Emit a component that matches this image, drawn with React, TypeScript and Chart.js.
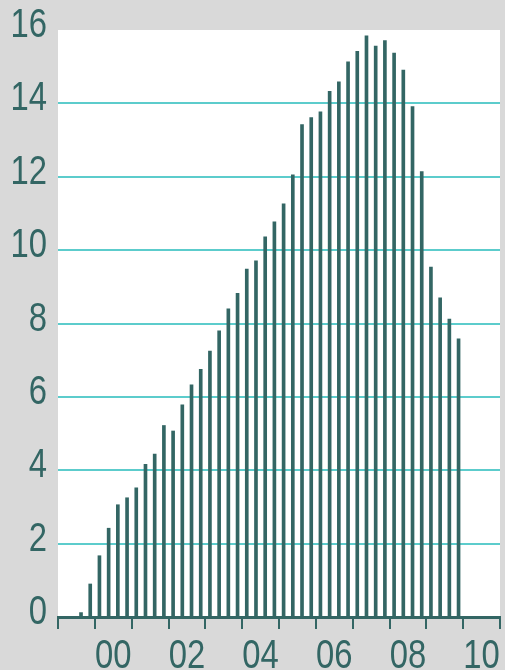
import React, { useEffect, useRef } from "react";
import { Chart, registerables } from "chart.js";

Chart.register(...registerables);

// Quarterly periods (year, quarter)
const periods: string[] = [
  "1999Q3", "1999Q4",
  "2000Q1", "2000Q2", "2000Q3", "2000Q4",
  "2001Q1", "2001Q2", "2001Q3", "2001Q4",
  "2002Q1", "2002Q2", "2002Q3", "2002Q4",
  "2003Q1", "2003Q2", "2003Q3", "2003Q4",
  "2004Q1", "2004Q2", "2004Q3", "2004Q4",
  "2005Q1", "2005Q2", "2005Q3", "2005Q4",
  "2006Q1", "2006Q2", "2006Q3", "2006Q4",
  "2007Q1", "2007Q2", "2007Q3", "2007Q4",
  "2008Q1", "2008Q2", "2008Q3", "2008Q4",
  "2009Q1", "2009Q2", "2009Q3", "2009Q4",
];

const values: number[] = [
  0.12, 0.9,
  1.67, 2.42, 3.06, 3.25,
  3.52, 4.16, 4.44, 5.22,
  5.07, 5.78, 6.33, 6.75,
  7.25, 7.8, 8.4, 8.82,
  9.48, 9.71, 10.36, 10.77,
  11.26, 12.05, 13.42, 13.61,
  13.77, 14.33, 14.59, 15.13,
  15.42, 15.84, 15.56, 15.71,
  15.37, 14.91, 13.91, 12.14,
  9.54, 8.7, 8.12, 7.58,
];

const xTickYears: number[] = [2000, 2002, 2004, 2006, 2008, 2010];
const xTickLabels: string[] = ["00", "02", "04", "06", "08", "10"];
const yTicks: number[] = [0, 2, 4, 6, 8, 10, 12, 14, 16];

const X_MIN = 1999;
const X_MAX = 2011;

const TEXT = "#336664";
const BAR = "#336664";
const GRID = "#5ccccc";
const BG = "#d9d9d9";
const FONT = "'Liberation Sans', Arial, sans-serif";
const NARROW = 0.82;

function periodToX(p: string): number {
  const y = parseInt(p.slice(0, 4), 10);
  const q = parseInt(p.slice(5), 10);
  return y + (q - 0.5) / 4;
}

// draw tick labels horizontally condensed (narrow typeface look)
function condenseLabels(scale: any) {
  if (scale.__condensed) return;
  scale.__condensed = true;
  const proto = Object.getPrototypeOf(scale);
  scale.drawLabels = function (area: any) {
    const ctx = this.ctx;
    const orig = ctx.fillText;
    ctx.fillText = function (t: string, x: number, y: number, mw?: number) {
      this.save();
      this.translate(x, y);
      this.scale(NARROW, 1);
      if (mw === undefined) orig.call(this, t, 0, 0);
      else orig.call(this, t, 0, 0, mw / NARROW);
      this.restore();
    };
    try {
      proto.drawLabels.call(this, area);
    } finally {
      delete ctx.fillText;
    }
  };
}

const bgPlugin = {
  id: "bgPlugin",
  beforeDraw(chart: any) {
    const { ctx, chartArea } = chart;
    ctx.save();
    ctx.fillStyle = BG;
    ctx.fillRect(0, 0, chart.width, chart.height);
    ctx.fillStyle = "#ffffff";
    ctx.fillRect(chartArea.left, chartArea.top, chartArea.right - chartArea.left, chartArea.bottom - chartArea.top);
    ctx.restore();
  },
};

export default function App() {
  const ref = useRef<HTMLCanvasElement | null>(null);

  useEffect(() => {
    if (!ref.current) return;
    const data = periods.map((p, i) => ({ x: periodToX(p), y: values[i] }));
    const chart = new Chart(ref.current, {
      type: "bar",
      data: {
        datasets: [
          {
            data,
            backgroundColor: BAR,
            borderWidth: 0,
            barThickness: 3,
          },
        ],
      },
      plugins: [bgPlugin],
      options: {
        animation: false,
        responsive: false,
        maintainAspectRatio: false,
        layout: { padding: { left: 13, right: 5, top: 30, bottom: 0 } },
        plugins: {
          legend: { display: false },
          tooltip: { enabled: false },
        },
        scales: {
          x: {
            type: "linear",
            min: X_MIN,
            max: X_MAX,
            offset: false,
            afterBuildTicks(scale: any) {
              const t = [];
              for (let v = X_MIN; v <= X_MAX; v++) t.push({ value: v });
              scale.ticks = t;
            },
            afterFit(scale: any) {
              scale.height = 53;
              scale.paddingLeft = 0;
              scale.paddingRight = 0;
              condenseLabels(scale);
            },
            ticks: {
              autoSkip: false,
              maxRotation: 0,
              minRotation: 0,
              padding: 4,
              labelOffset: 18.4,
              color: TEXT,
              font: { family: FONT, size: 40 },
              callback(v: any) {
                const i = xTickYears.indexOf(Number(v));
                return i >= 0 ? xTickLabels[i] : "";
              },
            },
            grid: {
              offset: false,
              drawOnChartArea: false,
              drawTicks: true,
              tickLength: 12,
              color: BAR,
              tickColor: BAR,
              tickWidth: 2,
              lineWidth: 2,
            },
            border: { display: true, color: BAR, width: 3 },
          },
          y: {
            min: 0,
            max: 16,
            afterBuildTicks(scale: any) {
              scale.ticks = yTicks.map((v) => ({ value: v }));
            },
            afterFit(scale: any) {
              scale.width = 45;
              scale.paddingTop = 0;
              scale.paddingBottom = 0;
              condenseLabels(scale);
            },
            ticks: {
              padding: 11,
              labelOffset: -4,
              color: TEXT,
              font: { family: FONT, size: 40 },
            },
            grid: {
              drawTicks: false,
              lineWidth: 2,
              color: (ctx: any) => (ctx.tick && (ctx.tick.value === 16 || ctx.tick.value === 0) ? "rgba(0,0,0,0)" : GRID),
            },
            border: { display: false },
          },
        },
      },
    } as any);
    return () => chart.destroy();
  }, []);

  return (
    <div style={{ position: "fixed", left: 0, top: 0, width: 505, height: 670, background: BG }}>
      <canvas ref={ref} width={505} height={670} style={{ display: "block", width: 505, height: 670 }} />
    </div>
  );
}
